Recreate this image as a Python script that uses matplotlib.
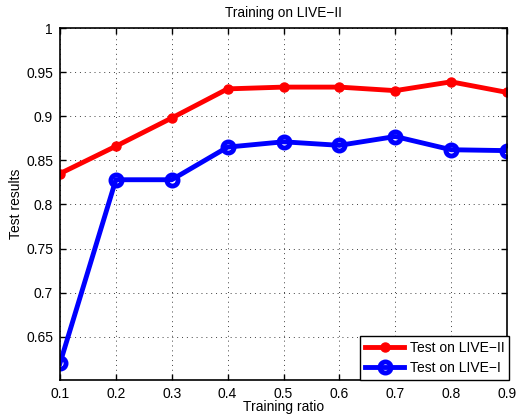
import matplotlib
matplotlib.use('Agg')
from matplotlib import pyplot as plt

ratios = [0.1, 0.2, 0.3, 0.4, 0.5, 0.6, 0.7, 0.8, 0.9]
live2 = [0.835, 0.866, 0.898, 0.931, 0.933, 0.933, 0.929, 0.939, 0.927]
live1 = [0.620, 0.828, 0.828, 0.865, 0.871, 0.867, 0.877, 0.862, 0.861]
yticks = [0.65, 0.7, 0.75, 0.8, 0.85, 0.9, 0.95, 1]
ytick_labels = ['0.65', '0.7', '0.75', '0.8', '0.85', '0.9', '0.95', '1']

plt.rcParams['font.family'] = ['Liberation Sans', 'DejaVu Sans']
plt.rcParams['font.size'] = 10


def main():
    fig = plt.figure(figsize=(5.16, 4.17), dpi=100)
    ax = fig.add_axes([60 / 516, 37 / 417, 447 / 516, 352 / 417])

    ax.plot(ratios, live2, color='red', lw=3.5, marker='.', ms=13,
            label='Test on LIVE\u2212II')
    ax.plot(ratios, live1, color='blue', lw=3.5, marker='o', ms=8,
            mfc='none', mew=3.5, label='Test on LIVE\u2212I')

    ax.set_xlim(0.1, 0.9)
    ax.set_ylim(0.601, 1)
    ax.set_xticks(ratios)
    ax.set_xticklabels([f'{r:g}' for r in ratios])
    ax.set_yticks(yticks)
    ax.set_yticklabels(ytick_labels)
    ax.tick_params(direction='in', top=True, right=True, length=4, width=1, pad=5)
    for s in ax.spines.values():
        s.set_linewidth(1.2)
    ax.grid(True, linestyle=(0, (1, 4)), color='#404040', lw=0.7)

    ax.set_title('Training on LIVE\u2212II', fontsize=9.8, pad=8)
    ax.set_xlabel('Training ratio', labelpad=-1)
    ax.set_ylabel('Test results', labelpad=2)

    leg = ax.legend(loc='lower right', bbox_to_anchor=(1.005, 0),
                    fancybox=False, framealpha=1, edgecolor='black',
                    borderaxespad=0, handlelength=2.8, borderpad=0.35,
                    labelspacing=0.45, handletextpad=0.4)
    leg.get_frame().set_linewidth(1.0)

    fig.savefig('out.png', dpi=100)


if __name__ == '__main__':
    main()
